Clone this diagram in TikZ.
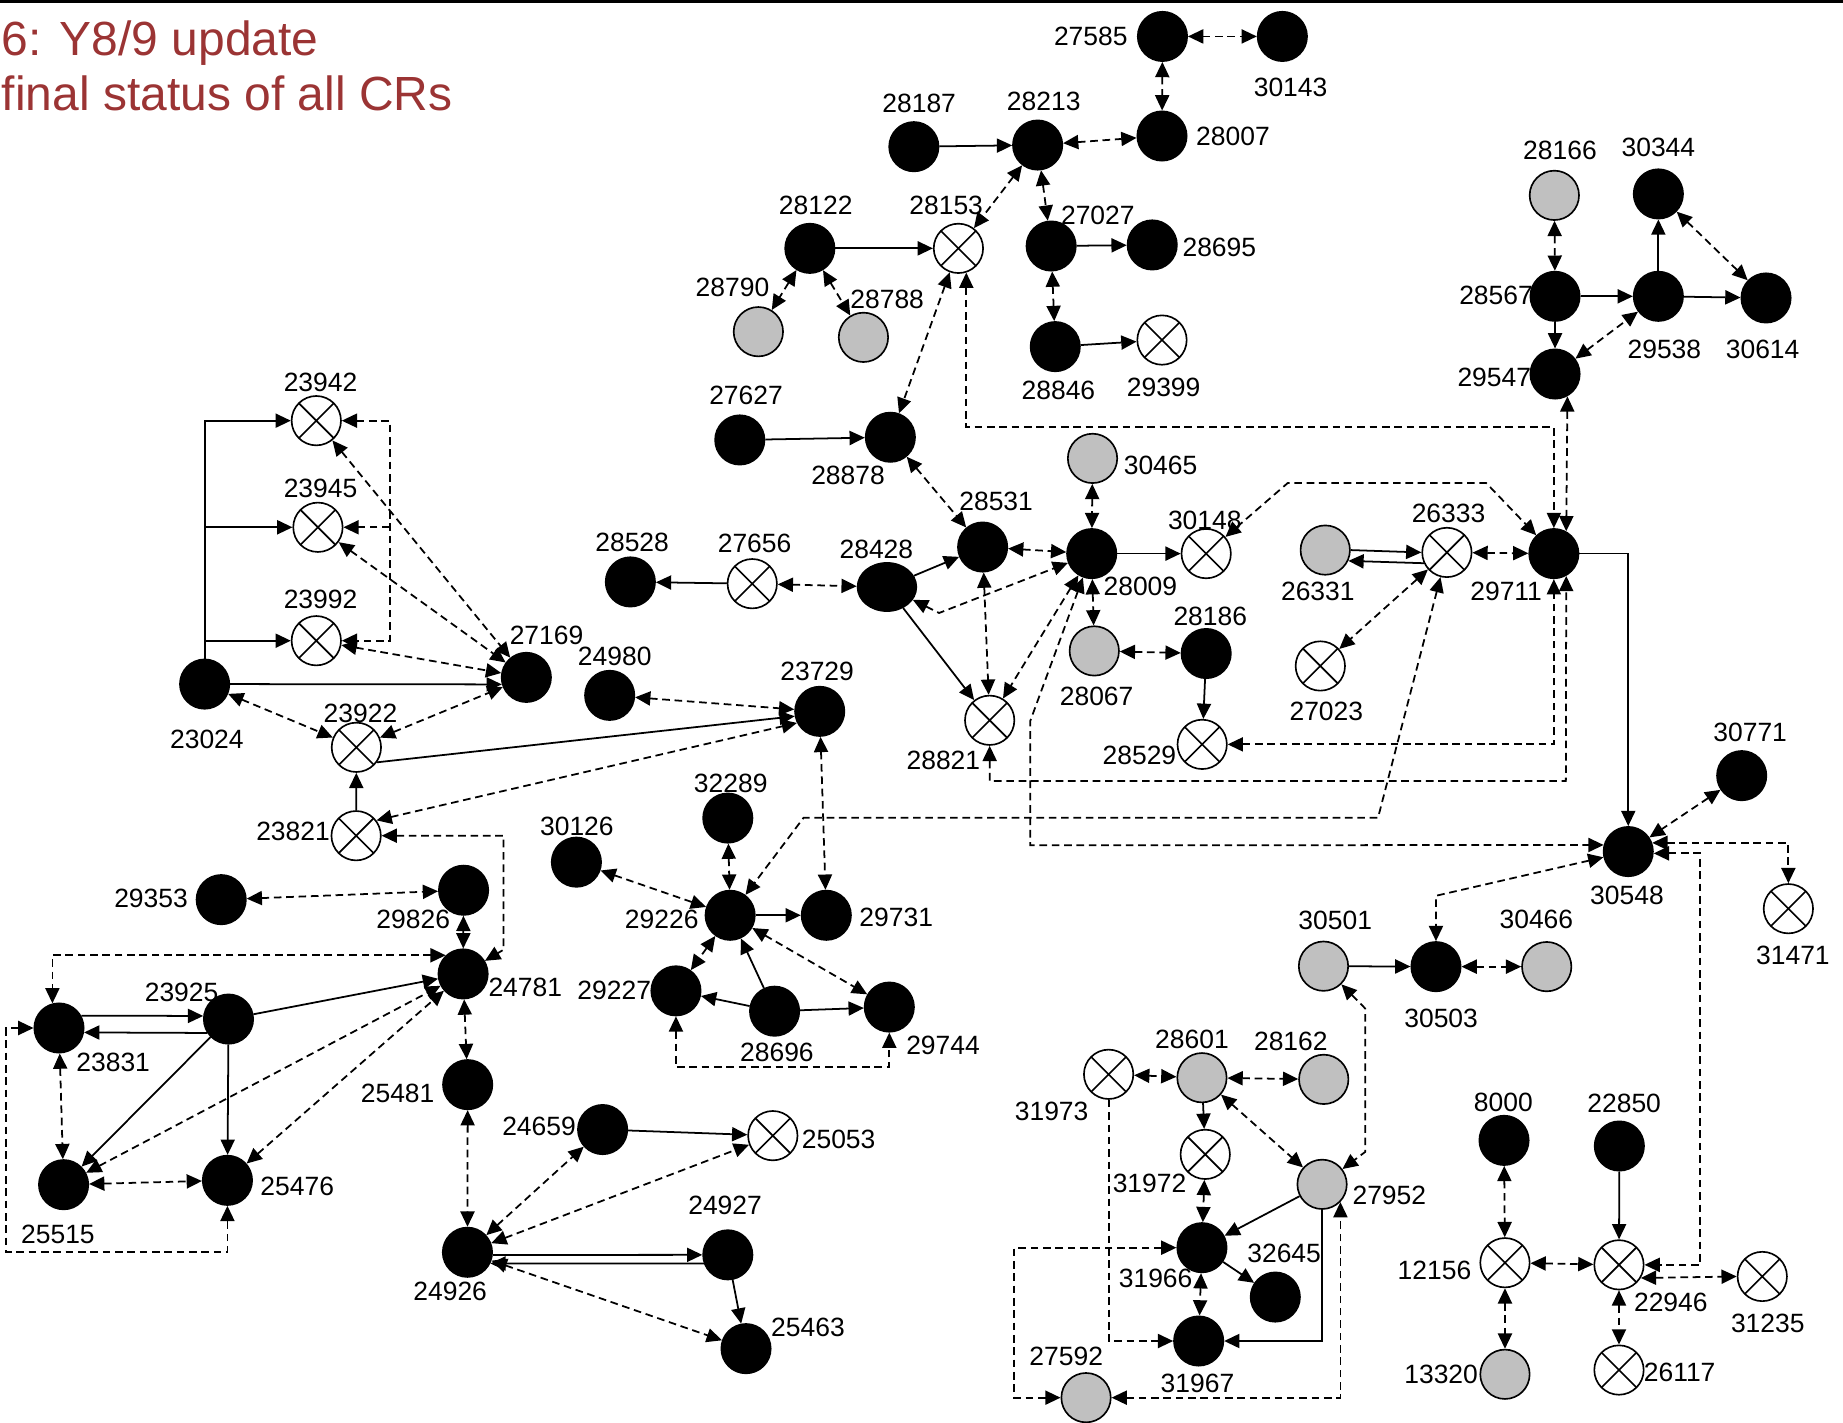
\documentclass[tikz,border=0pt]{standalone}
\usepackage{fontspec}
\setmainfont{Liberation Sans}
\usetikzlibrary{arrows.meta,shapes.geometric}
\definecolor{titlered}{RGB}{155,52,52}
\definecolor{crgray}{RGB}{192,192,192}
% \crnode{style}{id}{x}{y}  and  \crlab{id}{x}{y}
\newcommand\crnode[4]{\node[#1] (n#2) at (#3,#4) {};}
\newcommand\crlab[3]{\node[lbl] (l#1) at (#2,#3) {#1};}
\begin{document}
\begin{tikzpicture}[x=1pt,y=-1pt,
  >={Triangle[length=13pt,width=12pt]},
  nd/.style={circle,draw,line width=1.4pt,minimum size=42pt,inner sep=0pt},
  blk/.style={nd,fill=black},
  gry/.style={nd,fill=crgray},
  crs/.style={nd,fill=white,path picture={\draw[line width=1.4pt]
      (path picture bounding box.north west) -- (path picture bounding box.south east)
      (path picture bounding box.north east) -- (path picture bounding box.south west);}},
  lbl/.style={inner sep=0pt,font=\fontsize{22.5}{25}\selectfont},
  sl/.style={line width=1.5pt,->},
  dd/.style={line width=1.5pt,dash pattern=on 6.5pt off 4pt,<->},
  d1/.style={line width=1.5pt,dash pattern=on 6.5pt off 4pt,->}]

\useasboundingbox (0,0) rectangle (1568,1210);
\draw[line width=2.3pt] (0,1.15) -- (1568,1.15);

% title
\node[anchor=base west,inner sep=0pt,text=titlered,font=\fontsize{40.8}{46}\selectfont] (title1) at (1.5,46.8) {6: Y8/9 update};
\node[anchor=base west,inner sep=0pt,text=titlered,font=\fontsize{40.8}{46}\selectfont] (title2) at (1.5,94) {final status of all CRs};

% ---------- nodes ----------
\crnode{blk}{27585}{989}{31}
\crnode{blk}{30143}{1091}{31}
\crnode{blk}{28007}{988.6}{115.7}
\crnode{blk}{28213}{882.8}{123.4}
\crnode{blk}{28187}{777.5}{124.8}
\crnode{blk}{28122}{689}{211.3}
\crnode{crs}{28153}{815.4}{211.3}
\crnode{blk}{27027}{894.3}{209.3}
\crnode{blk}{28695}{980.3}{208.4}
\crnode{gry}{28790}{645.2}{282.2}
\crnode{gry}{28788}{734.6}{287}
\crnode{blk}{28846}{897.8}{294.9}
\crnode{crs}{29399}{988.6}{289.3}
\crnode{blk}{27627}{629.4}{374.3}
\crnode{blk}{28878}{757.5}{372}
\crnode{gry}{30465}{929.5}{390}
\crnode{gry}{28166}{1322.4}{166.2}
\crnode{blk}{30344}{1410.9}{165}
\crnode{blk}{28567}{1323}{252.1}
\crnode{blk}{29538}{1410.9}{252.1}
\crnode{blk}{30614}{1502.5}{253.5}
\crnode{blk}{29547}{1323}{318.2}
\crnode{crs}{23942}{269.1}{357.9}
\crnode{crs}{23945}{270.5}{448.6}
\crnode{crs}{23992}{269.1}{545.1}
\crnode{blk}{27169}{447.8}{576.3}
\crnode{blk}{23024}{174.1}{582}
\crnode{crs}{23922}{303.2}{635.8}
\crnode{crs}{23821}{303}{711}
\crnode{blk}{28531}{836}{465.4}
\crnode{blk}{28009}{928.8}{471}
\crnode{crs}{30148}{1026.2}{471}
\crnode{gry}{26331}{1127.5}{468}
\crnode{crs}{26333}{1231}{470}
\crnode{blk}{29711}{1322}{471}
\crnode{gry}{28067}{931}{553.8}
\crnode{blk}{28186}{1026.2}{556}
\crnode{crs}{27023}{1123.3}{566.6}
\crnode{crs}{28821}{842}{612.8}
\crnode{crs}{28529}{1022.8}{633.3}
\crnode{blk,ellipse,minimum width=50pt,minimum height=41pt}{28428}{754.6}{499.4}
\crnode{blk}{28528}{536.3}{495.1}
\crnode{crs}{27656}{640}{496.6}
\crnode{blk}{24980}{518.7}{591.6}
\crnode{blk}{23729}{697.4}{605.2}
\crnode{blk}{29353}{188.2}{765.4}
\crnode{blk}{29826}{394.4}{757.4}
\crnode{blk}{24781}{394}{828.6}
\crnode{blk}{23925}{194.4}{867}
\crnode{blk}{23831}{50.2}{874.6}
\crnode{blk}{25481}{397.9}{922.8}
\crnode{blk}{25515}{54.1}{1007.9}
\crnode{blk}{25476}{193.5}{1004.2}
\crnode{blk}{24926}{397.7}{1065.4}
\crnode{blk}{32289}{619.2}{696}
\crnode{blk}{30126}{490.4}{733.5}
\crnode{blk}{29226}{621.2}{778.7}
\crnode{blk}{29731}{703}{778.7}
\crnode{blk}{29227}{575.1}{843}
\crnode{blk}{28696}{659}{860.3}
\crnode{blk}{29744}{756.6}{856.8}
\crnode{blk}{24659}{512.7}{961}
\crnode{crs}{25053}{657.5}{966.2}
\crnode{blk}{24927}{619.2}{1067.6}
\crnode{blk}{25463}{634.7}{1147.4}
\crnode{crs}{31973}{943.2}{914}
\crnode{gry}{28601}{1022.6}{916.9}
\crnode{gry}{28162}{1126.2}{918.3}
\crnode{crs}{31972}{1025.4}{982.1}
\crnode{gry}{27952}{1124.8}{1007.6}
\crnode{blk}{31966}{1022.6}{1061.5}
\crnode{blk}{32645}{1085}{1103.5}
\crnode{blk}{31967}{1019.8}{1140.9}
\crnode{gry}{27592}{924}{1189.1}
\crnode{blk}{30771}{1481.8}{659.9}
\crnode{blk}{30548}{1385.3}{724.5}
\crnode{crs}{31471}{1521.5}{773.1}
\crnode{gry}{30501}{1126}{822}
\crnode{blk}{30503}{1221.7}{822.4}
\crnode{gry}{30466}{1315.9}{822.4}
\crnode{blk}{8000}{1279.6}{970.2}
\crnode{blk}{22850}{1377.7}{975}
\crnode{crs}{12156}{1280.4}{1074.3}
\crnode{crs}{22946}{1377.4}{1076.1}
\crnode{crs}{31235}{1499.3}{1086}
\crnode{gry}{13320}{1280.4}{1169.2}
\crnode{crs}{26117}{1377.4}{1165.6}

% ---------- labels ----------
\crlab{27585}{928}{31}
\crlab{30143}{1098}{74}
\crlab{28187}{782}{88}
\crlab{28213}{888}{86}
\crlab{28007}{1049}{116}
\crlab{28122}{694}{175}
\crlab{28153}{805}{175}
\crlab{27027}{934}{183.5}
\crlab{28695}{1037.4}{210.4}
\crlab{28790}{623.2}{244.5}
\crlab{28788}{754.8}{254.4}
\crlab{28846}{900.5}{332.4}
\crlab{29399}{990}{329.6}
\crlab{27627}{634.7}{336.7}
\crlab{28878}{721.5}{404.2}
\crlab{30465}{987.4}{396.2}
\crlab{28166}{1327.2}{128.2}
\crlab{30344}{1410.9}{125.1}
\crlab{28567}{1272.8}{251}
\crlab{29538}{1416}{297.2}
\crlab{30614}{1499.6}{297.2}
\crlab{29547}{1271.3}{320.7}
\crlab{23942}{272.7}{325.3}
\crlab{23945}{272.7}{415.7}
\crlab{23992}{272.7}{509.6}
\crlab{27169}{465}{540.8}
\crlab{23024}{176}{629.3}
\crlab{23922}{306.7}{606.6}
\crlab{23821}{249.3}{707.3}
\crlab{28531}{847.5}{426.8}
\crlab{28428}{745.6}{467.4}
\crlab{30148}{1025}{442.4}
\crlab{28009}{970.2}{499.1}
\crlab{26333}{1232.4}{436.7}
\crlab{26331}{1121.2}{502.8}
\crlab{29711}{1281.4}{503.4}
\crlab{28186}{1029.7}{524.1}
\crlab{28067}{933}{592.7}
\crlab{27023}{1128.4}{604.9}
\crlab{28821}{802.6}{646.6}
\crlab{28529}{969.4}{642.3}
\crlab{28528}{537.8}{461.7}
\crlab{27656}{642}{462.2}
\crlab{24980}{523}{558.1}
\crlab{23729}{695.2}{570.9}
\crlab{29353}{128.5}{764.6}
\crlab{29826}{351.6}{782.4}
\crlab{24781}{446.9}{839.7}
\crlab{23925}{154.5}{844}
\crlab{23831}{96.3}{903.5}
\crlab{25481}{338.3}{930.2}
\crlab{25515}{49.3}{1050.4}
\crlab{25476}{252.9}{1009.3}
\crlab{32289}{621.7}{666.2}
\crlab{30126}{490.8}{702.7}
\crlab{29226}{563}{782.1}
\crlab{29731}{762.5}{780.8}
\crlab{29227}{522.6}{842.9}
\crlab{28696}{661}{895.7}
\crlab{29744}{802.3}{889.8}
\crlab{24659}{458.6}{958.6}
\crlab{25053}{713.5}{969.7}
\crlab{24927}{616.9}{1025.6}
\crlab{24926}{383}{1099}
\crlab{25463}{687.4}{1129.4}
\crlab{28601}{1014.1}{884.2}
\crlab{28162}{1098.2}{885.6}
\crlab{31973}{894.7}{945.2}
\crlab{31972}{978}{1006.8}
\crlab{27952}{1182}{1017}
\crlab{32645}{1092.5}{1066.3}
\crlab{31966}{983.2}{1087.6}
\crlab{27592}{907.1}{1154.2}
\crlab{31967}{1018.8}{1176.9}
\crlab{30548}{1384.2}{761.4}
\crlab{31471}{1525.4}{812.5}
\crlab{30466}{1307.1}{781.9}
\crlab{30503}{1226.1}{866.2}
\crlab{30501}{1136}{783}
\crlab{30771}{1489}{623}
\crlab{8000}{1279}{937.7}
\crlab{22850}{1381.8}{938.4}
\crlab{12156}{1220.4}{1080.5}
\crlab{22946}{1421.5}{1108.2}
\crlab{31235}{1504}{1125.8}
\crlab{13320}{1226.1}{1169.6}
\crlab{26117}{1429}{1167.4}

% ---------- bend points of routed connectors ----------
\coordinate (p1) at (1322,363.5);
\coordinate (b1) at (799,521.5);
\coordinate (b2) at (1095.5,411);
\coordinate (b3) at (1264.5,411);
\coordinate (b4) at (1332.2,664.5);
\coordinate (b5) at (876.5,613.4);
\coordinate (b6) at (876.5,719.2);
\coordinate (b7) at (1172.4,695.7);
\coordinate (b8) at (683.7,695.7);
\coordinate (t1) at (331.5,357.9);
\coordinate (t2) at (331.5,448.6);
\coordinate (t3) at (331.5,545.1);
\coordinate (c1) at (428.4,711);
\coordinate (c2) at (428.4,808);
\coordinate (c3) at (5.3,1065.4);
\coordinate (c5) at (0,908);
\coordinate (d1) at (1161.5,858);
\coordinate (d2) at (1161.5,980);
\coordinate (d3) at (863,1061.5);
\coordinate (e1) at (1446.3,1076.1);
\coordinate (e2) at (1221.7,762.1);

% ---------- top cluster ----------
\draw[dd] (n27585) -- (n30143);
\draw[dd] (n27585) -- (n28007);
\draw[sl] (n28187) -- (n28213);
\draw[dd] (n28213) -- (n28007);
\draw[dd] (n28213) -- (n28153);
\draw[dd] (n28213) -- (n27027);
\draw[sl] (n28122) -- (n28153);
\draw[sl] (n27027) -- (n28695);
\draw[dd] (n27027) -- (n28846);
\draw[sl] (n28846) -- (n29399);
\draw[dd] (n28122) -- (n28790);
\draw[dd] (n28122) -- (n28788);
\draw[dd] (n28153) -- (n28878);
\draw[sl] (n27627) -- (n28878);
\draw[dd] (n28153.-72.5) |- (p1) -- (n29711.north);

% ---------- centre ----------
\draw[dd] (n28878) -- (n28531);
\draw[dd] (n28531) -- (n28009);
\draw[sl] (n28428) -- (n28531);
\draw[dd] (n28428) -- (b1) -- (n28009);
\draw[sl] (n28428) -- (n28821);
\draw[sl] (n27656) -- (n28528);
\draw[dd] (n27656) -- (n28428);
\draw[dd] (n28531) -- (n28821);
\draw[dd] (n28009) -- (n28821);
\draw[sl] (n28009) -- (n30148);
\draw[dd] (n30465) -- (n28009);
\draw[dd] (n28009) -- (n28067);
\draw[dd] (n30148) -- (b2) -- (b3) -- (n29711);
\draw[sl] (n26331.east) -- (n26333.west);
\draw[sl] (n26333.-155) -- (n26331.-25);
\draw[dd] (n26333) -- (n29711);
\draw[dd] (n26333) -- (n27023);
\draw[dd] (n28067) -- (n28186);
\draw[sl] (n28186) -- (n28529);
\draw[dd] (n28529) -| (n29711.south);
\draw[dd] (n28821.south) |- (b4) -- (n29711.-61);
\draw[sl] (n29711) -| (n30548);
\draw[dd] (n28009) -- (b5) -- (b6) -- (n30548.165);
\draw[dd] (n26333) -- (b7) -- (b8) -- (n29226);

% ---------- upper right ----------
\draw[dd] (n28166) -- (n28567);
\draw[sl] (n28567) -- (n29538);
\draw[sl] (n29538) -- (n30614);
\draw[sl] (n29538) -- (n30344);
\draw[dd] (n30344) -- (n30614);
\draw[sl] (n28567) -- (n29547);
\draw[dd] (n29547) -- (n29538);
\draw[dd] (n29547.-61) -- (n29711.61);

% ---------- left ----------
\draw[sl] (n23024) |- (n23942);
\draw[sl] (n23024) |- (n23945);
\draw[sl] (n23024) |- (n23992);
\draw[sl] (n23024.east) -- (n27169.196);
\draw[dd] (n23942) -- (t1) -- (t3) -- (n23992);
\draw[d1] (t2) -- (n23945);
\draw[dd] (n23942) -- (n27169);
\draw[dd] (n23945) -- (n27169);
\draw[dd] (n23992) -- (n27169);
\draw[dd] (n23024) -- (n23922);
\draw[dd] (n23922) -- (n27169);
\draw[sl] (n23821) -- (n23922);
\draw[sl] (n23922.-36) -- (n23729.191);
\draw[dd] (n23821.37) -- (n23729.207);
\draw[dd] (n24980) -- (n23729);
\draw[dd] (n23729) -- (n29731);
\draw[dd] (n23821) -- (c1) -- (c2) -- (n24781);

% ---------- lower left ----------
\draw[dd] (n29353) -- (n29826);
\draw[dd] (n29826) -- (n24781);
\draw[dd] (n24781.133) -| (n23831.105);
\draw[sl] (n23925) -- (n24781);
\draw[sl] (n23831.29) -- (n23925.173);
\draw[sl] (n23925.-147) -- (n23831.-10);
\draw[sl] (n23925) -- (n25515);
\draw[sl] (n23925) -- (n25476);
\draw[dd] (n23831) -- (n25515);
\draw[dd] (n25515) -- (n25476);
\draw[dd] (n25515) -- (n24781);
\draw[dd] (n25476) -- (n24781);
\draw[dd] (n23831.west) -| (c3) -| (n25476.south);
\draw[dd] (n24781) -- (n25481);
\draw[dd] (n25481) -- (n24926);

% ---------- lower middle ----------
\draw[dd] (n30126) -- (n29226);
\draw[dd] (n32289) -- (n29226);
\draw[sl] (n29226) -- (n29731);
\draw[dd] (n29226) -- (n29227);
\draw[sl] (n28696) -- (n29226);
\draw[sl] (n28696) -- (n29227);
\draw[sl] (n28696) -- (n29744);
\draw[dd] (n29226) -- (n29744);
\draw[dd] (n29227.south) -- (n29227.south |- c5) -| (n29744.south);
\draw[sl] (n24659) -- (n25053);
\draw[dd] (n24926) -- (n24659);
\draw[dd] (n24926) -- (n25053);
\draw[sl] (n24926.-6) -- (n24927.180);
\draw[sl] (n24927.-160) -- (n24926.-26);
\draw[sl] (n24927) -- (n25463);
\draw[dd] (n24926) -- (n25463);

% ---------- lower right ----------
\draw[dd] (n31973) -- (n28601);
\draw[dd] (n28601) -- (n28162);
\draw[sl] (n28601) -- (n31972);
\draw[dd] (n28601) -- (n27952);
\draw[dd] (n30501) -- (d1) -- (d2) -- (n27952);
\draw[dd] (n31972) -- (n31966);
\draw[sl] (n27952) -- (n31966);
\draw[sl] (n27952) |- (n31967);
\draw[sl] (n31966) -- (n32645);
\draw[dd] (n31966) -- (n31967);
\draw[d1] (n31973) |- (n31967);
\draw[dd] (n31966) -- (d3) |- (n27592);
\draw[dd] (n27592) -| (n27952.-44);

\draw[dd] (n30771) -- (n30548);
\draw[dd] (n30548.20) -| (n31471.north);
\draw[dd] (n30548.-4) -| (e1) -- (n22946.east);
\draw[dd] (n30548) -- (e2) -- (n30503);
\draw[sl] (n30501) -- (n30503);
\draw[dd] (n30503) -- (n30466);
\draw[dd] (n8000) -- (n12156);
\draw[sl] (n22850) -- (n22946);
\draw[dd] (n12156) -- (n22946);
\draw[dd] (n22946.-31) -- (n31235.west);
\draw[dd] (n12156) -- (n13320);
\draw[dd] (n22946) -- (n26117);
\end{tikzpicture}
\end{document}
